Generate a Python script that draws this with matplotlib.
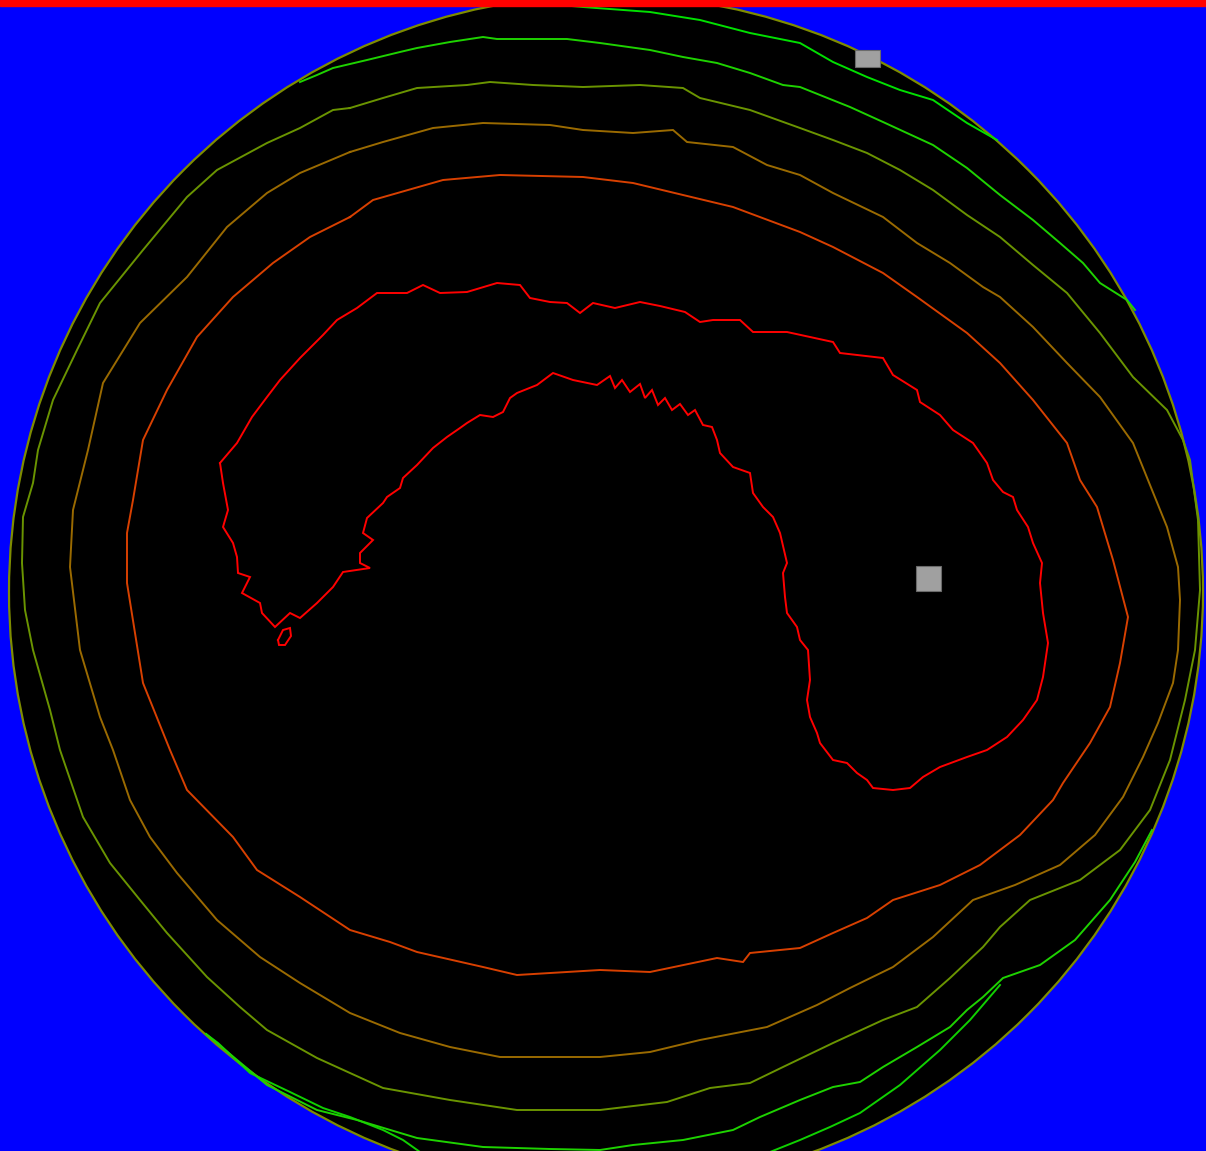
import numpy as np
import matplotlib
matplotlib.use("Agg")
import matplotlib.pyplot as plt
from matplotlib.patches import Circle, Rectangle

# Image size in pixels
W, H = 1206, 1151

# Disk (pixel coords)
disk_center = (606, 592)
disk_radius = 597

# Contour lines, outer to inner (x, y in pixels)
green_outer_top = [(560, 5), (583, 7), (650, 12), (700, 20), (750, 33), (800, 43), (833, 62),
                   (867, 77), (900, 90), (933, 100), (967, 123), (997, 140)]
green_outer_bottom_left = [(206, 1034), (218, 1043), (250, 1073), (290, 1092), (323, 1108),
                           (350, 1117), (383, 1130), (403, 1140), (420, 1152)]
green_outer_bottom_right = [(770, 1152), (800, 1140), (830, 1127), (860, 1113), (900, 1085),
                            (940, 1050), (970, 1020), (1000, 985)]

green_top = [(300, 82), (317, 75), (333, 68), (367, 60), (400, 52), (417, 48), (450, 42),
             (483, 37), (497, 39), (567, 39), (600, 43), (650, 50), (683, 57), (717, 63),
             (750, 73), (783, 85), (800, 87), (850, 107), (883, 122), (933, 145), (967, 168),
             (1000, 195), (1033, 220), (1060, 243), (1083, 263), (1100, 283), (1127, 300),
             (1135, 310)]
green_bottom = [(1152, 830), (1135, 862), (1110, 900), (1075, 940), (1040, 965), (1003, 978),
                (983, 997), (967, 1010), (950, 1027), (917, 1047), (883, 1067), (860, 1082),
                (833, 1087), (800, 1100), (760, 1117), (733, 1130), (683, 1140), (633, 1145),
                (600, 1150), (550, 1149), (483, 1147), (417, 1138), (357, 1120), (317, 1110),
                (267, 1085), (206, 1034)]

olive_ring = [(350, 108), (383, 98), (417, 88), (467, 85), (490, 82), (533, 85), (583, 87),
              (640, 85), (683, 88), (700, 98), (750, 110), (800, 128), (833, 140), (867, 153),
              (900, 170), (933, 190), (967, 215), (1000, 237), (1033, 265), (1067, 293),
              (1100, 333), (1133, 377), (1167, 410), (1183, 440), (1190, 460), (1198, 520),
              (1200, 590), (1195, 650), (1185, 700), (1170, 760), (1150, 810), (1120, 850),
              (1080, 880), (1030, 900), (1000, 927), (983, 947), (950, 978), (917, 1007),
              (883, 1020), (833, 1043), (783, 1067), (750, 1083), (710, 1088), (667, 1102),
              (600, 1110), (517, 1110), (450, 1100), (383, 1088), (317, 1058), (267, 1030),
              (240, 1007), (207, 977), (167, 933), (140, 900), (110, 863), (83, 817), (60, 750),
              (50, 710), (33, 650), (25, 610), (22, 563), (23, 517), (33, 483), (38, 450),
              (53, 400), (77, 350), (100, 303), (143, 250), (187, 197), (217, 170), (267, 143),
              (300, 128), (333, 110), (350, 108)]

brown_ring = [(350, 152), (383, 142), (433, 128), (483, 123), (550, 125), (583, 130), (633, 133),
              (673, 130), (687, 142), (733, 147), (767, 165), (800, 175), (833, 193), (883, 217),
              (917, 243), (950, 263), (983, 287), (1000, 297), (1033, 327), (1067, 363),
              (1100, 397), (1133, 443), (1150, 485), (1167, 527), (1178, 567), (1180, 600),
              (1178, 650), (1173, 683), (1158, 723), (1143, 757), (1123, 797), (1095, 835),
              (1060, 865), (1015, 885), (973, 900), (933, 937), (893, 967), (850, 988),
              (817, 1005), (767, 1027), (700, 1040), (650, 1052), (600, 1057), (500, 1057),
              (450, 1047), (400, 1033), (350, 1013), (300, 983), (260, 957), (217, 920),
              (177, 873), (150, 837), (130, 800), (113, 750), (100, 717), (80, 650), (70, 567),
              (73, 510), (88, 450), (103, 383), (140, 323), (187, 277), (227, 227), (267, 193),
              (300, 173), (350, 152)]

redorange_ring = [(350, 217), (373, 200), (443, 180), (500, 175), (583, 177), (633, 183),
                  (683, 195), (733, 207), (800, 232), (833, 247), (883, 273), (917, 297),
                  (967, 333), (1000, 363), (1033, 400), (1067, 443), (1080, 480), (1097, 507),
                  (1113, 560), (1128, 617), (1120, 663), (1110, 707), (1090, 743), (1063, 783),
                  (1053, 800), (1020, 835), (980, 865), (940, 885), (893, 900), (867, 918),
                  (833, 933), (800, 948), (750, 953), (743, 962), (717, 958), (650, 972),
                  (600, 970), (517, 975), (483, 967), (417, 952), (390, 942), (350, 930),
                  (300, 897), (257, 870), (233, 837), (187, 790), (170, 750), (143, 683),
                  (127, 583), (127, 533), (133, 500), (143, 440), (167, 390), (197, 337),
                  (233, 297), (273, 263), (310, 237), (350, 217)]

red_hook = [(220, 463), (237, 443), (252, 417), (267, 397), (280, 380), (300, 358), (323, 335),
            (337, 320), (357, 308), (377, 293), (407, 293), (423, 285), (440, 293), (467, 292),
            (497, 283), (520, 285), (530, 298), (550, 302), (567, 303), (580, 313), (593, 303),
            (615, 308), (640, 302), (660, 306), (685, 312), (700, 322), (713, 320), (740, 320),
            (753, 332), (787, 332), (810, 337), (833, 342), (840, 353), (883, 358), (893, 375),
            (917, 390), (920, 402), (940, 415), (953, 430), (973, 443), (987, 463), (993, 480),
            (1003, 492), (1013, 497), (1017, 510), (1028, 527), (1033, 543), (1042, 563),
            (1040, 583), (1043, 613), (1048, 643), (1043, 677), (1037, 700), (1023, 720),
            (1007, 737), (987, 750), (967, 757), (940, 767), (923, 777), (910, 788), (893, 790),
            (873, 788), (867, 780), (857, 773), (847, 763), (833, 760), (820, 743), (817, 733),
            (810, 717), (807, 700), (810, 680), (808, 650), (800, 640), (797, 627), (787, 613),
            (785, 597), (783, 573), (787, 563), (780, 533), (773, 517), (763, 507), (753, 493),
            (750, 473), (733, 467), (720, 453), (717, 440), (712, 427), (703, 425), (695, 410),
            (688, 415), (680, 404), (672, 410), (665, 398), (658, 405), (652, 390), (645, 398),
            (640, 384), (630, 392), (622, 380), (615, 388), (610, 376), (597, 385), (573, 380),
            (553, 373), (537, 385), (517, 393), (510, 398), (503, 412), (493, 417), (480, 415),
            (467, 423), (460, 428), (447, 437), (433, 448), (417, 465), (403, 478), (400, 488),
            (387, 497), (383, 503), (367, 518), (363, 533), (373, 540), (360, 553), (360, 563),
            (370, 568), (343, 572), (333, 587), (317, 603), (300, 618), (290, 613), (275, 627),
            (262, 613), (260, 603), (242, 593), (250, 577), (238, 573), (237, 557), (233, 543),
            (223, 527), (228, 510), (223, 483), (220, 463)]
red_island = [(278, 640), (283, 630), (290, 628), (291, 636), (285, 645), (279, 645), (278, 640)]

# grey markers: (x, y, w, h)
grey_boxes = [(916, 566, 25, 25), (855, 50, 25, 17)]

fig = plt.figure(figsize=(W / 100, H / 100), dpi=100)
ax = fig.add_axes([0, 0, 1, 1])
ax.set_xlim(0, W)
ax.set_ylim(H, 0)
ax.axis('off')
ax.add_patch(Rectangle((0, 0), W, H, color='#0000ff', zorder=0))
ax.add_patch(Circle(disk_center, disk_radius, facecolor='black', edgecolor='#7e8c00',
                    lw=1.6, zorder=1))

for x, y, w, h in grey_boxes:
    ax.add_patch(Rectangle((x, y), w, h, facecolor='#a0a0a0', edgecolor='#6a6a6a', lw=0.8, zorder=2))

lines = [
    (green_outer_top, '#00e000'),
    (green_outer_bottom_left, '#10d000'),
    (green_outer_bottom_right, '#10d000'),
    (green_top, '#1ed200'),
    (green_bottom, '#1ed200'),
    (olive_ring, '#6a9400'),
    (brown_ring, '#9a6a00'),
    (redorange_ring, '#d84000'),
    (red_hook, '#ff0000'),
    (red_island, '#ff0000'),
]
for pts, col in lines:
    arr = np.array(pts)
    ax.plot(arr[:, 0], arr[:, 1], color=col, lw=1.4, zorder=3, solid_joinstyle='miter')

# red bar along the top
ax.add_patch(Rectangle((0, 0), W, 6, color='#ff0000', zorder=4))

fig.savefig('out.png', dpi=100)
